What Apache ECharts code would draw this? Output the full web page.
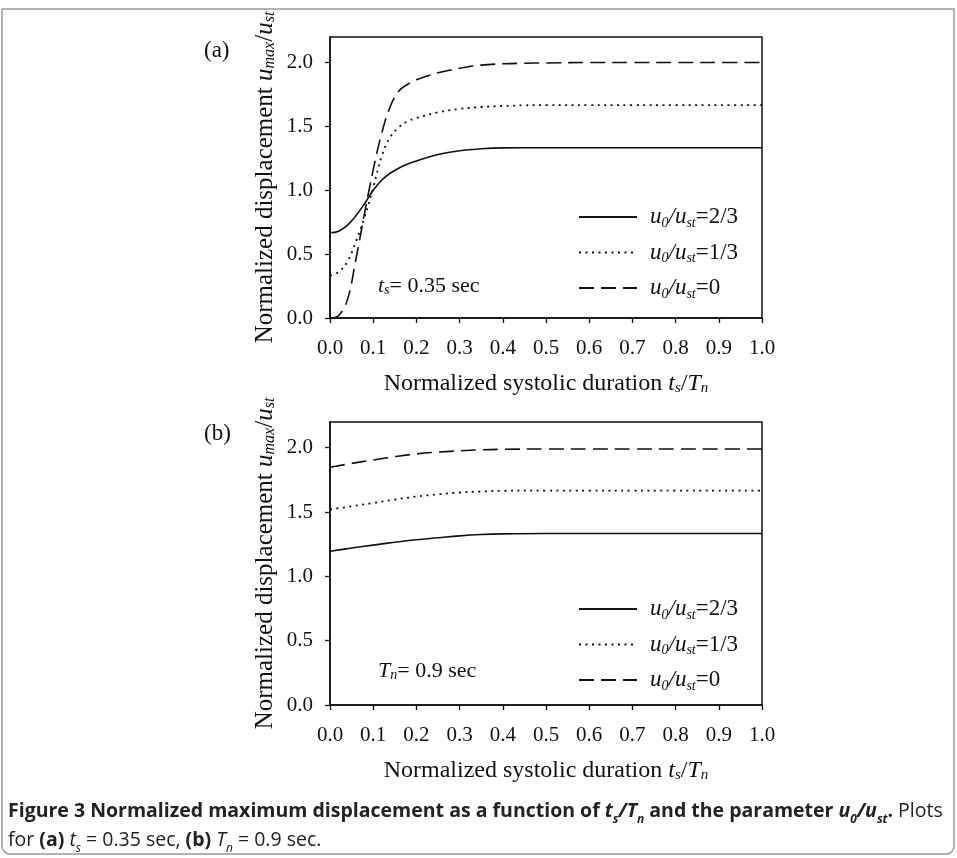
<!DOCTYPE html>
<html>
<head>
<meta charset="utf-8">
<script src="https://cdn.jsdelivr.net/npm/echarts@6/dist/echarts.min.js"></script>
<style>
  html, body { margin: 0; padding: 0; background: #fff; }
  #chart { width: 957px; height: 858px; }
</style>
</head>
<body>
<div id="chart"></div>
<script>
// panel (a): t_s = 0.35 sec
var xsA = [0, 0.02, 0.04, 0.06, 0.08, 0.1, 0.12, 0.14, 0.16, 0.18, 0.2, 0.25, 0.3, 0.35, 0.4, 0.45, 0.5, 0.6, 0.7, 0.8, 0.9, 1.0];
var solidA  = [0.667, 0.68, 0.725, 0.80, 0.895, 1.0, 1.08, 1.135, 1.175, 1.205, 1.23, 1.28, 1.31, 1.325, 1.332, 1.333, 1.333, 1.333, 1.333, 1.333, 1.333, 1.333];
var dottedA = [0.333, 0.36, 0.44, 0.60, 0.79, 1.02, 1.27, 1.42, 1.495, 1.54, 1.565, 1.61, 1.637, 1.652, 1.66, 1.665, 1.667, 1.667, 1.667, 1.667, 1.667, 1.667];
var dashedA = [0, 0.02, 0.14, 0.46, 0.82, 1.16, 1.45, 1.66, 1.78, 1.83, 1.865, 1.92, 1.955, 1.98, 1.99, 1.995, 1.997, 2.0, 2.0, 2.0, 2.0, 2.0];

// panel (b): T_n = 0.9 sec
var xsB = [0, 0.05, 0.1, 0.15, 0.2, 0.25, 0.3, 0.35, 0.4, 0.5, 0.6, 0.7, 0.8, 0.9, 1.0];
var solidB  = [1.195, 1.22, 1.243, 1.265, 1.285, 1.30, 1.315, 1.325, 1.33, 1.333, 1.333, 1.333, 1.333, 1.333, 1.333];
var dottedB = [1.52, 1.545, 1.57, 1.597, 1.62, 1.638, 1.652, 1.66, 1.665, 1.667, 1.667, 1.667, 1.667, 1.667, 1.667];
var dashedB = [1.848, 1.878, 1.905, 1.93, 1.952, 1.966, 1.976, 1.984, 1.988, 1.99, 1.99, 1.99, 1.99, 1.99, 1.99];

var names = ['u0/ust=2/3', 'u0/ust=1/3', 'u0/ust=0'];
var legendText = {
    'u0/ust=2/3': '{i|u}{sub|0}{i|/u}{sub|st}=2/3',
    'u0/ust=1/3': '{i|u}{sub|0}{i|/u}{sub|st}=1/3',
    'u0/ust=0': '{i|u}{sub|0}{i|/u}{sub|st}=0'
};

var serif = 'Liberation Serif, Times New Roman, serif';

function richFor(size) {
    return {
        i: { fontFamily: serif, fontStyle: 'italic', fontSize: size, color: '#111' },
        n: { fontFamily: serif, fontSize: size, color: '#111' },
        sub: { fontFamily: serif, fontStyle: 'italic', fontSize: Math.round(size * 0.62), color: '#111', verticalAlign: 'bottom', lineHeight: 8 }
    };
}

function pairs(xs, ys) {
    return xs.map(function (x, k) { return [x, ys[k]]; });
}

var lineStyles = [
    { type: 'solid', width: 1.6, color: '#111' },
    { type: [2, 4.5], width: 1.8, color: '#111' },
    { type: [15, 7], width: 1.6, color: '#111' }
];

function makeSeries(idx, data) {
    return data.map(function (ys, k) {
        return {
            name: names[k],
            type: 'line',
            xAxisIndex: idx,
            yAxisIndex: idx,
            data: pairs(idx === 0 ? xsA : xsB, ys),
            showSymbol: false,
            symbol: 'none',
            smooth: 0.4,
            lineStyle: lineStyles[k],
            itemStyle: { color: '#111', opacity: 0 },
            silent: true
        };
    });
}

function xAxis(idx) {
    return {
        type: 'value',
        gridIndex: idx,
        min: 0,
        max: 1,
        interval: 0.1,
        name: 'Normalized systolic duration {i|t}{sub|s}{n|/}{i|T}{sub|n}',
        nameLocation: 'middle',
        nameGap: 54,
        nameTextStyle: { fontFamily: serif, fontSize: 24, color: '#111', rich: richFor(24) },
        axisLine: { show: true, lineStyle: { color: '#111', width: 1.5 } },
        axisTick: { show: true, inside: false, length: 5, lineStyle: { color: '#111', width: 1.3 } },
        axisLabel: {
            margin: 20,
            fontFamily: serif, fontSize: 21, color: '#111',
            formatter: function (v) { return v.toFixed(1); }
        },
        splitLine: { show: false }
    };
}

function yAxis(idx) {
    return {
        type: 'value',
        gridIndex: idx,
        min: 0,
        max: 2.2,
        interval: 0.5,
        name: 'Normalized displacement {i|u}{sub|max}{n|/}{i|u}{sub|st}',
        nameLocation: 'middle',
        nameRotate: 90,
        nameGap: 52,
        nameTextStyle: { fontFamily: serif, fontSize: 25, color: '#111', rich: richFor(25) },
        axisLine: { show: true, lineStyle: { color: '#111', width: 1.5 } },
        axisTick: { show: true, inside: false, length: 5, lineStyle: { color: '#111', width: 1.3 } },
        axisLabel: {
            margin: 17,
            showMaxLabel: false,
            fontFamily: serif, fontSize: 21, color: '#111',
            formatter: function (v) { return v.toFixed(1); }
        },
        splitLine: { show: false }
    };
}

function legend(top) {
    return {
        orient: 'vertical',
        left: 573,
        top: top,
        data: names,
        itemWidth: 58,
        itemHeight: 26,
        itemGap: 9.5,
        selectedMode: false,
        itemStyle: { opacity: 0 },
        formatter: function (n) { return legendText[n]; },
        textStyle: {
            fontFamily: serif, fontSize: 23, color: '#111',
            lineHeight: 26,
            padding: [0, 0, 0, 8],
            rich: richFor(23)
        }
    };
}

var capFont = 'Open Sans, Noto Sans, sans-serif';
var chart = echarts.init(document.getElementById('chart'));
chart.setOption({
    backgroundColor: '#fff',
    animation: false,
    grid: [
        { left: 330, top: 37, width: 432, height: 281, show: true, borderColor: '#111', borderWidth: 1.5, backgroundColor: 'transparent' },
        { left: 330, top: 422, width: 432, height: 283, show: true, borderColor: '#111', borderWidth: 1.5, backgroundColor: 'transparent' }
    ],
    xAxis: [xAxis(0), xAxis(1)],
    yAxis: [yAxis(0), yAxis(1)],
    legend: [legend(199), legend(591)],
    series: makeSeries(0, [solidA, dottedA, dashedA]).concat(makeSeries(1, [solidB, dottedB, dashedB])),
    graphic: [
        {
            type: 'rect', silent: true, z: -1,
            shape: { x: 2, y: 9, width: 952, height: 845, r: [0, 0, 8, 8] },
            style: { fill: 'none', stroke: '#9a9a9a', lineWidth: 1.5 }
        },
        { type: 'text', left: 204, top: 39, style: { text: '(a)', font: '23px ' + serif, fill: '#111' } },
        { type: 'text', left: 204, top: 422, style: { text: '(b)', font: '23px ' + serif, fill: '#111' } },
        {
            type: 'text', left: 378, top: 275,
            style: { text: '{i|t}{sub|s}{n|= 0.35 sec}', font: '22px ' + serif, fill: '#111', rich: richFor(22) }
        },
        {
            type: 'text', left: 378, top: 660,
            style: { text: '{i|T}{sub|n}{n|= 0.9 sec}', font: '22px ' + serif, fill: '#111', rich: richFor(22) }
        },
        {
            type: 'text', left: 8, top: 801,
            style: {
                text: '{b|Figure 3 Normalized maximum displacement as a function of }{bi|t}{bs|s}{bi|/T}{bs|n}{b| and the parameter }{bi|u}{bs|0}{bi|/u}{bs|st}{b|.}{r| Plots}\n' +
                      '{r|for }{b|(a)}{r| }{ri|t}{rs|s}{r| = 0.35 sec, }{b|(b)}{r| }{ri|T}{rs|n}{r| = 0.9 sec.}',
                fill: '#222',
                rich: {
                    b: { fontFamily: capFont, fontWeight: 'bold', fontSize: 19.5, lineHeight: 29, color: '#222' },
                    bi: { fontFamily: capFont, fontWeight: 'bold', fontStyle: 'italic', fontSize: 19.5, lineHeight: 29, color: '#222' },
                    bs: { fontFamily: capFont, fontWeight: 'bold', fontStyle: 'italic', fontSize: 12, lineHeight: 22, verticalAlign: 'bottom', color: '#222' },
                    r: { fontFamily: capFont, fontSize: 19.5, lineHeight: 29, color: '#333' },
                    ri: { fontFamily: capFont, fontStyle: 'italic', fontSize: 19.5, lineHeight: 29, color: '#333' },
                    rs: { fontFamily: capFont, fontStyle: 'italic', fontSize: 12, lineHeight: 22, verticalAlign: 'bottom', color: '#333' }
                }
            }
        }
    ]
});
</script>
</body>
</html>
